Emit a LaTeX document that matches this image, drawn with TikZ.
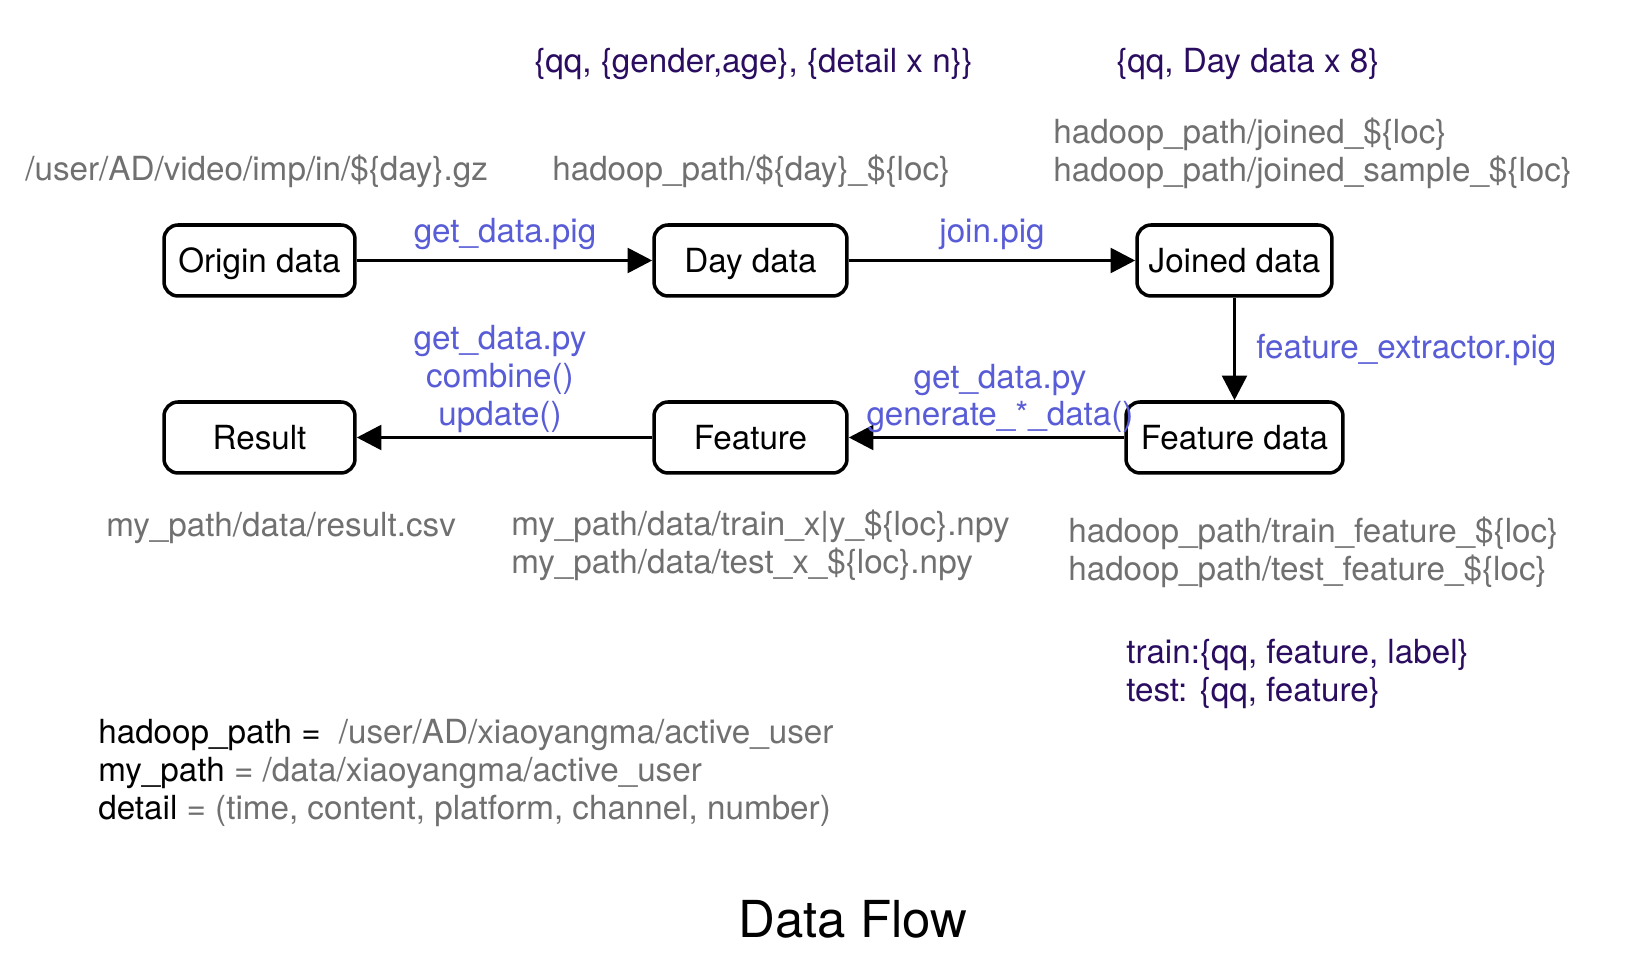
\documentclass[tikz,border=0pt]{standalone}
\usepackage{fontspec}
\setmainfont{TeX Gyre Heros}
\usetikzlibrary{arrows.meta}
\definecolor{pathgray}{RGB}{112,112,112}
\definecolor{scriptblue}{RGB}{88,92,214}
\definecolor{dataviolet}{RGB}{42,12,96}
\tikzset{
  txt/.style={font=\fontsize{18.9}{21.5}\selectfont},
  flowbox/.style={txt, draw=black, line width=2pt, rounded corners=8pt, minimum height=1.42cm, inner sep=0pt, text height=13.6pt, text depth=0pt},
  flowarrow/.style={line width=2pt, -{Triangle[length=14pt,width=14pt]}},
  pathtext/.style={txt, text=pathgray, anchor=west, align=left, inner sep=0pt, yshift=-0.06cm},
  scripttext/.style={txt, text=scriptblue, align=center, inner sep=0pt, yshift=-0.06cm},
  datatext/.style={txt, text=dataviolet, anchor=west, align=left, inner sep=0pt, yshift=-0.06cm},
  legendtext/.style={txt, anchor=west, align=left, inner sep=0pt, yshift=-0.05cm}
}
\begin{document}
\begin{tikzpicture}[x=0.02cm, y=-0.02cm]
\path[use as bounding box, fill=white] (0,0) rectangle (1634,976);

% boxes
\node[flowbox, minimum width=3.82cm] (origin) at (259.5,260.5) {Origin data};
\node[flowbox, minimum width=3.86cm] (day) at (750.5,260.5) {Day data};
\node[flowbox, minimum width=3.90cm] (joined) at (1234.5,260.5) {Joined data};
\node[flowbox, minimum width=3.82cm] (result) at (259.5,437.5) {Result};
\node[flowbox, minimum width=3.86cm] (feature) at (750.5,437.5) {Feature};
\node[flowbox, minimum width=4.34cm] (featdata) at (1234.5,437.5) {Feature data};

% connectors
\draw[flowarrow] (origin) -- (day);
\draw[flowarrow] (day) -- (joined);
\draw[flowarrow] (joined) -- (featdata);
\draw[flowarrow] (featdata) -- (feature);
\draw[flowarrow] (feature) -- (result);

% script labels
\node[scripttext] (lgetpig) at (505,231) {get\_data.pig};
\node[scripttext] (ljoin) at (992,231) {join.pig};
\node[scripttext, anchor=west] (lfeatx) at (1256,347) {feature\_extractor.pig};
\node[scripttext] (lgetpy) at (500,376) {get\_data.py\\combine()\\update()};
\node[scripttext] (lgen) at (1000,395.5) {get\_data.py\\generate\_*\_data()};

% path labels
\node[pathtext] (porigin) at (25,168) {/user/AD/video/imp/in/\$\{day\}.gz};
\node[pathtext] (pday) at (552,168) {hadoop\_path/\$\{day\}\_\$\{loc\}};
\node[pathtext] (pjoined) at (1053,150) {hadoop\_path/joined\_\$\{loc\}\\hadoop\_path/joined\_sample\_\$\{loc\}};
\node[pathtext] (presult) at (106,525) {my\_path/data/result.csv};
\node[pathtext] (pfeature) at (511,542.5) {my\_path/data/train\_x|y\_\$\{loc\}.npy\\my\_path/data/test\_x\_\$\{loc\}.npy};
\node[pathtext] (pfeatdata) at (1068,549) {hadoop\_path/train\_feature\_\$\{loc\}\\hadoop\_path/test\_feature\_\$\{loc\}};

% data format labels
\node[datatext] (fday) at (534,61) {\{qq, \{gender,age\}, \{detail x n\}\}};
\node[datatext] (fjoined) at (1116,61) {\{qq, Day data x 8\}};
\node[datatext] (ffeat) at (1126,671) {train:\{qq, feature, label\}\\test: \{qq, feature\}};

% legend
\node[legendtext] (legend) at (98,770.5) {hadoop\_path =\hspace{0.55em}\textcolor{pathgray}{/user/AD/xiaoyangma/active\_user}\\
my\_path \textcolor{pathgray}{= /data/xiaoyangma/active\_user}\\
detail \textcolor{pathgray}{= (time, content, platform, channel, number)}};

% title
\node[inner sep=0pt, font=\fontsize{29}{32}\selectfont] (title) at (853,919) {Data Flow};
\end{tikzpicture}
\end{document}
